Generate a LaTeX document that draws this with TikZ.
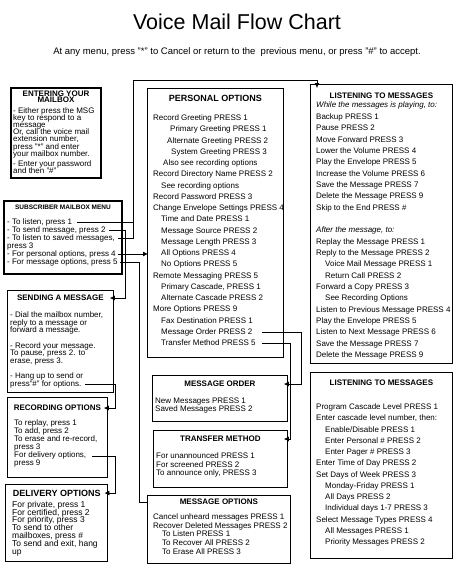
\documentclass[tikz,border=0pt]{standalone}
\usepackage{fontspec}
\setmainfont{Liberation Sans}
\usepackage{tikz}
\usetikzlibrary{arrows.meta, positioning}
\setlength{\lineskiplimit}{-10pt}
\newcommand{\indnt}[1][8pt]{\hspace*{#1}}
\tikzset{
  frame/.style={rectangle, draw=black, line width=0.8pt, inner sep=0pt,
    anchor=north west},
  heavyframe/.style={frame, line width=2pt},
  boxttl/.style={font=\bfseries\fontsize{8}{7.3}\selectfont, inner sep=0pt,
    align=center},
  body/.style={inner sep=0pt, align=left,
    font=\fontsize{8}{11.25}\selectfont},
  arrow/.style={-{Latex[length=5pt,width=5pt]}, line width=0.8pt,
    shorten >=-4pt},
  line/.style={line width=0.8pt}
}

\begin{document}
\begin{tikzpicture}[x=1pt, y=-1pt]
  \path[use as bounding box, fill=white] (0,0) rectangle (474,568);

  % Heading
  \node[font=\fontsize{21.5}{24}\selectfont, anchor=base] (title) at (237,29.5) {Voice Mail Flow Chart};
  \node[font=\fontsize{9.5}{11}\selectfont, anchor=base] (hint) at (237,54)
    {At any menu, press "*" to Cancel or return to the\ \ previous menu, or press "\#" to accept.};

  % Left column
  \node[heavyframe, minimum width=90pt, minimum height=90pt] (entr) at (10,87) {};
  \node[boxttl, below=3.5pt of entr.north] (entrttl) {ENTERING YOUR\\[-0.8pt]MAILBOX};
  \node[body, font=\fontsize{8}{7.2}\selectfont, below right=20pt and 3pt of entr.north west] (entrtxt)
    {- Either press the MSG\\ key to respond to a\\ message\\ Or, call the voice mail\\ extension number,\\
     press "*" and enter\\ your mailbox number.\\[3.2pt] - Enter your password\\ and then "\#"};

  \node[heavyframe, minimum width=118pt, minimum height=73pt] (subm) at (3,200) {};
  \node[boxttl, font=\bfseries\fontsize{6.5}{7}\selectfont, below=4.7pt of subm.north] (submttl) {SUBSCRIBER MAILBOX MENU};
  \node[body, font=\fontsize{8}{8}\selectfont, below right=18.5pt and 4pt of subm.north west] (submtxt)
    {- To listen, press 1\\ - To send message, press 2\\ - To listen to saved messages,\\ press 3\\
     - For personal options, press 4\\ - For message options, press 5};

  \node[frame, minimum width=106pt, minimum height=102pt] (send) at (7,290) {};
  \node[boxttl, below=5pt of send.north] (sendttl) {SENDING A MESSAGE};
  \node[body, font=\fontsize{8}{7.5}\selectfont, below right=21.5pt and 3pt of send.north west] (sendtxt)
    {- Dial the mailbox number,\\ reply to a message or\\ forward a message.\\[8pt] - Record your message.\\
     To pause, press 2. to\\ erase, press 3.\\[8pt] - Hang up to send or\\ press"\#" for options.};

  \node[frame, minimum width=100pt, minimum height=80pt] (rec) at (7,397) {};
  \node[boxttl, below=8pt of rec.north] (recttl) {RECORDING OPTIONS};
  \node[body, font=\fontsize{8}{8}\selectfont, below right=22.5pt and 7pt of rec.north west] (rectxt)
    {To replay, press 1\\ To add, press 2\\ To erase and re-record,\\ press 3\\ For delivery options,\\ press 9};

  \node[frame, line width=1.4pt, minimum width=102pt, minimum height=77pt] (deliv) at (5,484) {};
  \node[boxttl, font=\bfseries\fontsize{9}{10}\selectfont, below=5.7pt of deliv.north] (delivttl) {DELIVERY OPTIONS};
  \node[body, font=\fontsize{8.5}{7.8}\selectfont, below right=17pt and 7pt of deliv.north west] (delivtxt)
    {For private, press 1\\ For certified, press 2\\ For priority, press 3\\ To send to other\\
     mailboxes, press \#\\ To send and exit, hang\\ up};

  % Middle column
  \node[frame, minimum width=136pt, minimum height=269pt] (pers) at (147,88) {};
  \node[boxttl, font=\bfseries\fontsize{9}{10}\selectfont, below=6.8pt of pers.north] (persttl) {PERSONAL OPTIONS};
  \node[body, below right=26.5pt and 6pt of pers.north west] (perstxt)
    {Record Greeting PRESS 1\\ \indnt[17pt]Primary Greeting PRESS 1\\ \indnt[14pt]Alternate Greeting PRESS 2\\
     \indnt[18pt]System Greeting PRESS 3\\ \indnt[10pt]Also see recording options\\
     Record Directory Name PRESS 2\\ \indnt See recording options\\ Record Password PRESS 3\\
     Change Envelope Settings PRESS 4\\ \indnt Time and Date PRESS 1\\ \indnt Message Source PRESS 2\\
     \indnt Message Length PRESS 3\\ \indnt All Options PRESS 4\\ \indnt No Options PRESS 5\\
     Remote Messaging PRESS 5\\ \indnt Primary Cascade, PRESS 1\\ \indnt Alternate Cascade PRESS 2\\
     More Options PRESS 9\\ \indnt Fax Destination PRESS 1\\ \indnt Message Order PRESS 2\\
     \indnt Transfer Method PRESS 5};

  \node[frame, minimum width=135pt, minimum height=46pt] (morder) at (152,375) {};
  \node[boxttl, below=6pt of morder.north] (morderttl) {MESSAGE ORDER};
  \node[body, font=\fontsize{8}{8.5}\selectfont, below right=22.5pt and 3pt of morder.north west] (mordertxt)
    {New Messages PRESS 1\\ Saved Messages PRESS 2};

  \node[frame, minimum width=134pt, minimum height=57pt] (transfer) at (153,430) {};
  \node[boxttl, below=6pt of transfer.north] (transferttl) {TRANSFER METHOD};
  \node[body, font=\fontsize{8}{8.7}\selectfont, below right=22.5pt and 3pt of transfer.north west] (transfertxt)
    {For unannounced PRESS 1\\ For screened PRESS 2\\ To announce only, PRESS 3};

  \node[frame, minimum width=143pt, minimum height=68pt] (msgopt) at (147,495) {};
  \node[boxttl, below=4pt of msgopt.north] (msgoptttl) {MESSAGE OPTIONS};
  \node[body, font=\fontsize{8}{8.7}\selectfont, below right=18.5pt and 6pt of msgopt.north west] (msgopttxt)
    {Cancel unheard messages PRESS 1\\ Recover Deleted Messages PRESS 2\\ \indnt[9pt]To Listen PRESS 1\\
     \indnt[9pt]To Recover All PRESS 2\\ \indnt[9pt]To Erase All PRESS 3};

  % Right column
  \node[frame, minimum width=142pt, minimum height=279pt] (listen) at (310,84) {};
  \node[boxttl, below=9pt of listen.north] (listenttl) {LISTENING TO MESSAGES};
  \node[body, font=\fontsize{8}{11.33}\selectfont, below right=17.5pt and 6pt of listen.north west] (listentxt)
    {\textit{While the messages is playing, to:}\\[0.7pt] Backup PRESS 1\\ Pause PRESS 2\\ Move Forward PRESS 3\\
     Lower the Volume PRESS 4\\ Play the Envelope PRESS 5\\ Increase the Volume PRESS 6\\
     Save the Message PRESS 7\\ Delete the Message PRESS 9\\ Skip to the End PRESS \#\\[11.33pt]
     \textit{After the message, to:}\\ Replay the Message PRESS 1\\ Reply to the Message PRESS 2\\
     \indnt[9pt]Voice Mail Message PRESS 1\\ \indnt[9pt]Return Call PRESS 2\\ Forward a Copy PRESS 3\\
     \indnt[9pt]See Recording Options\\ Listen to Previous Message PRESS 4\\ Play the Envelope PRESS 5\\
     Listen to Next Message PRESS 6\\ Save the Message PRESS 7\\ Delete the Message PRESS 9};

  \node[frame, minimum width=142pt, minimum height=186pt] (listen2) at (310,372) {};
  \node[boxttl, below=8pt of listen2.north] (listen2ttl) {LISTENING TO MESSAGES};
  \node[body, below right=31.5pt and 6pt of listen2.north west] (listen2txt)
    {Program Cascade Level PRESS 1\\ Enter cascade level number, then:\\ \indnt[9pt]Enable/Disable PRESS 1\\
     \indnt[9pt]Enter Personal \# PRESS 2\\ \indnt[9pt]Enter Pager \# PRESS 3\\ Enter Time of Day PRESS 2\\
     Set Days of Week PRESS 3\\ \indnt[9pt]Monday-Friday PRESS 1\\ \indnt[9pt]All Days PRESS 2\\
     \indnt[9pt]Individual days 1-7 PRESS 3\\ Select Message Types PRESS 4\\ \indnt[9pt]All Messages PRESS 1\\
     \indnt[9pt]Priority Messages PRESS 2};

  % Connectors
  \coordinate (sub1) at (77,222);
  \coordinate (sub2) at (109,230);
  \coordinate (sub3) at (118,238);
  \coordinate (sub4) at (118,254);
  \coordinate (sub5) at (120,262);
  \coordinate (snd) at (85,384);
  \coordinate (rc9) at (92,456);
  \coordinate (po2) at (262,332);
  \coordinate (po5) at (262,343);
  \coordinate (bend) at (133,80);

  \draw[line] (sub1) -- (bend |- sub1);
  \draw[arrow] (sub3) -| (bend) -| ([xshift=7pt]listen.north west);
  \draw[arrow] (sub2) -- ++(16,0) |- (send.east |- sendttl);
  \draw[arrow, shorten >=-1pt] (sub4) -- (pers.west |- sub4);
  \draw[line] (sub5) -- ++(19,0) |- (msgopt.west |- msgoptttl);
  \draw[arrow] (snd) -- ++(30,0) |- (rec.east |- recttl);
  \draw[arrow] (rc9) -- ++(23,0) |- (deliv.east |- delivttl);
  \draw[arrow] (po2) -- ++(39,0) |- (morder.east |- morderttl);
  \draw[arrow] (po5) -- ++(28,0) |- (transfer.east |- transferttl);
\end{tikzpicture}
\end{document}
